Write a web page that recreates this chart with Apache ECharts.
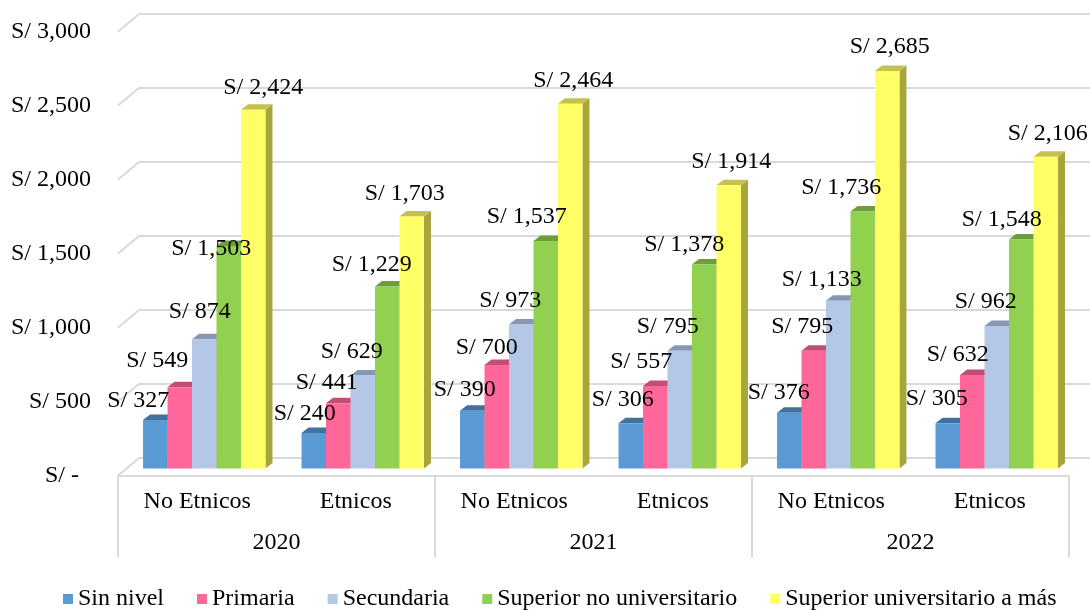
<!DOCTYPE html>
<html>
<head>
<meta charset="utf-8">
<script src="https://cdn.jsdelivr.net/npm/echarts@6/dist/echarts.min.js"></script>
<style>
html,body{margin:0;padding:0;background:#fff;}
#chart{width:1090px;height:610px;}
</style>
</head>
<body>
<div id="chart"></div>
<script>
// ---- data ----
const categories = ['No Etnicos', 'Etnicos', 'No Etnicos', 'Etnicos', 'No Etnicos', 'Etnicos'];
const years = ['2020', '2021', '2022'];
const seriesNames = ['Sin nivel', 'Primaria', 'Secundaria', 'Superior no universitario', 'Superior universitario a más'];
const sinNivel = [327, 240, 390, 306, 376, 305];
const primaria = [549, 441, 700, 557, 795, 632];
const secundaria = [874, 629, 973, 795, 1133, 962];
const superiorNoUniv = [1503, 1229, 1537, 1378, 1736, 1548];
const superiorUniv = [2424, 1703, 2464, 1914, 2685, 2106];
const yTicks = [0, 500, 1000, 1500, 2000, 2500, 3000];

// ---- styles / layout ----
const FONT = "Liberation Serif";
const FS = 24;
const frontColors = ['#5B9BD5', '#FF6699', '#B4C7E7', '#92D050', '#FFFF66'];
const topColors = ['#41719C', '#C24D75', '#8797B3', '#6E9E3C', '#C2C24D'];
const sideColors = ['#3A6890', '#B04468', '#7A8AA6', '#64903A', '#A8A43E'];
// label offsets [dx, dy] relative to top-centre of each bar (manually placed labels)
const labelShift = [
  [[-17,-19],[-9,-19],[-7.5,-21],[-8,-24],[-10.5,-20],[-11,-24.5]],
  [[-22.5,-27],[-11.5,-21],[-10,-17.5],[-14,-24],[-11.5,-24],[-14.5,-20]],
  [[-4.5,-27],[-11,-24],[-11,-24],[-12,-24],[-16.5,-21],[-11,-24]],
  [[-17.5,2.5],[-15.5,-22],[-19,-24],[-20,-20],[-21.5,-24],[-19.5,-20]],
  [[10,-22],[-7,-23],[3,-23],[2.5,-24],[2.5,-24],[2,-23.5]]
];
const BAR_DX = 7, BAR_DY = -7;      // bars sit mid-depth
const TOP_DX = 7, TOP_DY = -5.5;    // bar depth
const WALL_DX = 21, WALL_DY = -17.5; // back wall
const BAR_FRAC = 0.1545;

const allValues = [sinNivel, primaria, secundaria, superiorNoUniv, superiorUniv];

function fmt(v) {
  return 'S/ ' + v.toLocaleString('en-US');
}

function barGeom(api, s) {
  const i = api.value(0), v = api.value(1);
  const p = api.coord([i, v]);
  const b = api.coord([i, 0]);
  const band = api.size([1, 0])[0];
  const w = band * BAR_FRAC;
  const x0 = p[0] - 2.5 * w + BAR_DX + s * w;
  return { x0: x0, x1: x0 + w, yTop: p[1] + BAR_DY, yBot: b[1] + BAR_DY, w: w, i: i, v: v };
}

function makeBarSeries(s) {
  return {
    type: 'custom',
    name: seriesNames[s],
    xAxisIndex: 0, yAxisIndex: 0,
    itemStyle: { color: frontColors[s] },
    z: 3,
    data: allValues[s].map((v, i) => [i, v]),
    encode: { x: 0, y: 1 },
    renderItem: function (params, api) {
      const g = barGeom(api, s);
      return {
        type: 'group',
        children: [
          { type: 'polygon', shape: { points: [[g.x1, g.yTop], [g.x1 + TOP_DX, g.yTop + TOP_DY], [g.x1 + TOP_DX, g.yBot + TOP_DY], [g.x1, g.yBot]] }, style: { fill: sideColors[s] } },
          { type: 'polygon', shape: { points: [[g.x0, g.yTop], [g.x1, g.yTop], [g.x1 + TOP_DX, g.yTop + TOP_DY], [g.x0 + TOP_DX, g.yTop + TOP_DY]] }, style: { fill: topColors[s] } },
          { type: 'rect', shape: { x: g.x0, y: g.yTop, width: g.w, height: g.yBot - g.yTop }, style: { fill: frontColors[s] } }
        ]
      };
    }
  };
}

function makeLabelSeries(s) {
  return {
    type: 'custom',
    name: seriesNames[s],
    xAxisIndex: 0, yAxisIndex: 0,
    itemStyle: { color: frontColors[s] },
    z: 10,
    silent: true,
    data: allValues[s].map((v, i) => [i, v]),
    encode: { x: 0, y: 1 },
    renderItem: function (params, api) {
      const g = barGeom(api, s);
      const off = labelShift[s][g.i];
      return {
        type: 'text',
        x: (g.x0 + g.x1) / 2 + off[0],
        y: g.yTop + off[1],
        style: { text: fmt(g.v), fontFamily: FONT, fontSize: FS, fill: '#000', align: 'center', verticalAlign: 'middle' }
      };
    }
  };
}

const wallSeries = {
  type: 'custom',
  silent: true,
  z: 1,
  xAxisIndex: 0, yAxisIndex: 0,
  data: yTicks.map(v => [0, v]),
  encode: { x: 0, y: 1 },
  renderItem: function (params, api) {
    const cs = params.coordSys;
    const y = api.coord([0, api.value(1)])[1];
    return {
      type: 'polyline',
      shape: { points: [[cs.x, y], [cs.x + WALL_DX, y + WALL_DY], [cs.x + cs.width + WALL_DX, y + WALL_DY]] },
      style: { stroke: '#D9D9D9', lineWidth: 2, fill: null }
    };
  }
};

const series = [wallSeries];
for (let s = 0; s < 5; s++) series.push(makeBarSeries(s));
for (let s = 0; s < 5; s++) series.push(makeLabelSeries(s));

const chart = echarts.init(document.getElementById('chart'), null, { renderer: 'canvas' });
chart.setOption({
  animation: false,
  backgroundColor: '#fff',
  textStyle: { fontFamily: FONT, fontSize: FS, color: '#000' },
  grid: { left: 118, right: 21, top: 31.5, bottom: 134.5, containLabel: false },
  legend: {
    data: seriesNames.map(n => ({ name: n, icon: 'rect', textStyle: { fontFamily: FONT, fontSize: FS, color: '#000' } })),
    left: 58,
    top: 582,
    itemWidth: 10,
    itemHeight: 10,
    itemGap: 33,
    textStyle: { fontFamily: FONT, fontSize: FS, color: '#000' }
  },
  xAxis: [
    {
      type: 'category',
      data: categories,
      position: 'bottom',
      axisLine: { show: true, lineStyle: { color: '#D9D9D9', width: 2 } },
      axisTick: { show: false },
      axisLabel: { interval: 0, margin: 14, fontFamily: FONT, fontSize: FS, color: '#000' },
      splitLine: { show: false }
    },
    {
      type: 'category',
      data: years,
      position: 'bottom',
      axisLine: { show: false },
      axisTick: { show: true, length: 82, interval: 0, lineStyle: { color: '#D9D9D9', width: 2 } },
      axisLabel: { interval: 0, margin: 55, fontFamily: FONT, fontSize: FS, color: '#000' },
      splitLine: { show: false }
    }
  ],
  yAxis: {
    type: 'value',
    min: 0,
    max: 3000,
    interval: 500,
    axisLine: { show: false },
    axisTick: { show: false },
    splitLine: { show: false },
    axisLabel: {
      margin: 27,
      fontFamily: FONT,
      fontSize: FS,
      color: '#000',
      formatter: function (v) { return v === 0 ? 'S/ -\u00a0\u00a0' : fmt(v); }
    }
  },
  series: series
});
</script>
</body>
</html>
